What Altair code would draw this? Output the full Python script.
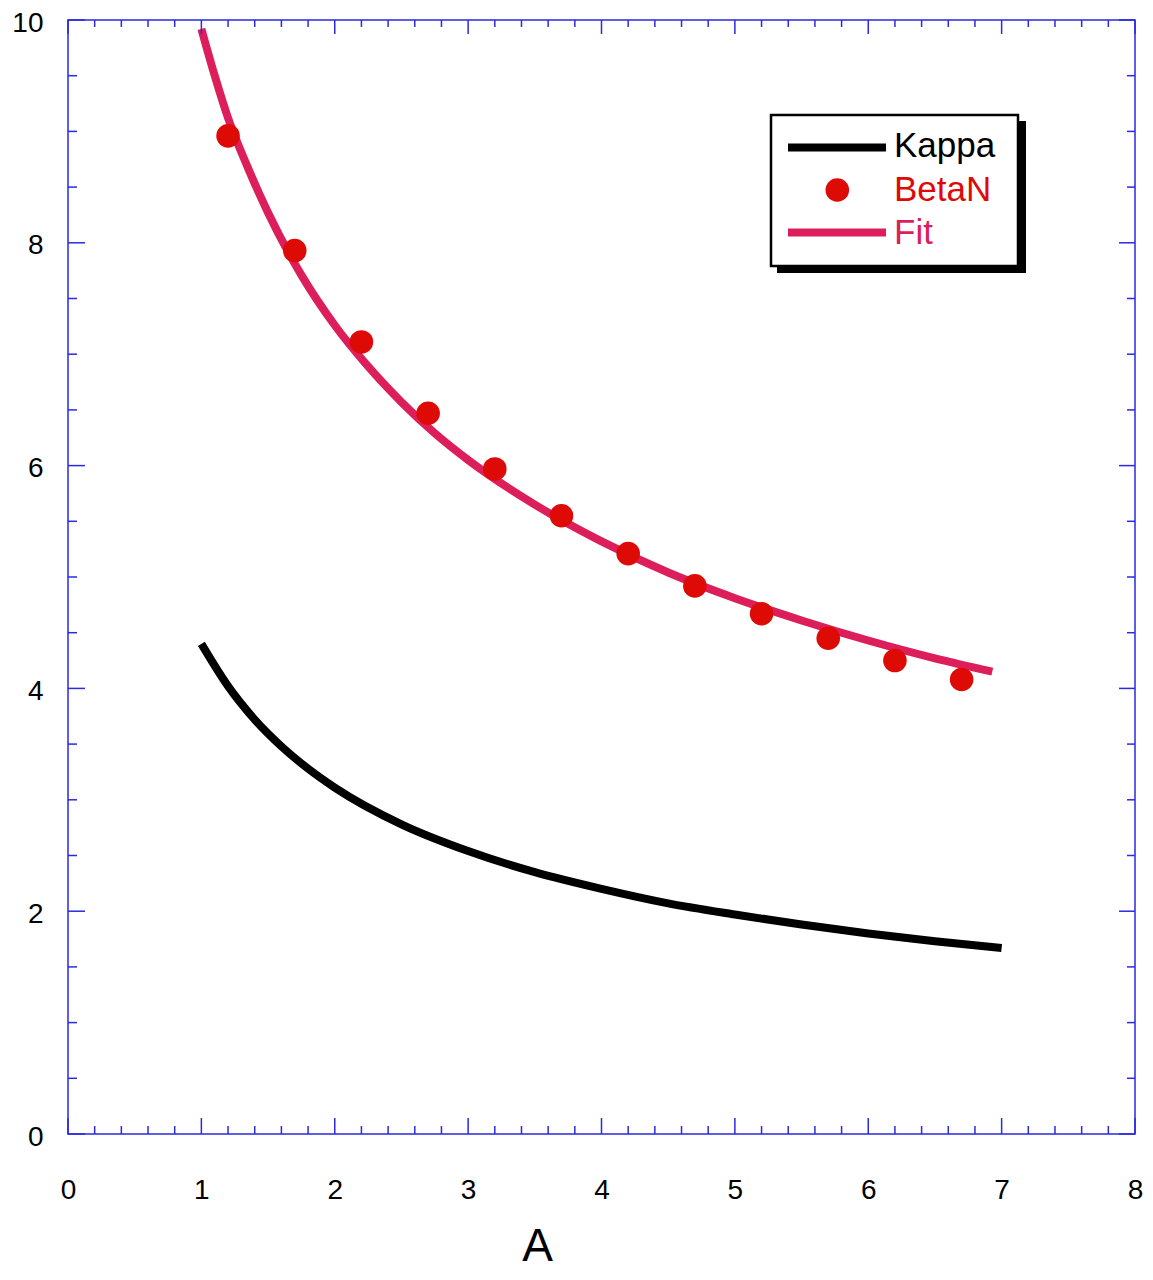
import altair as alt
import pandas as pd

# ---- data ----
A_kappa = [1.0, 1.2, 1.4, 1.6, 1.8, 2.0, 2.5, 3.0, 3.5, 4.0, 4.5, 5.0, 5.5, 6.0, 6.5, 7.0]
kappa = [4.40, 4.02, 3.72, 3.48, 3.28, 3.11, 2.78, 2.54, 2.35, 2.20, 2.07, 1.97, 1.88, 1.80, 1.73, 1.67]

A_beta = [1.2, 1.7, 2.2, 2.7, 3.2, 3.7, 4.2, 4.7, 5.2, 5.7, 6.2, 6.7]
betaN = [8.96, 7.93, 7.11, 6.47, 5.97, 5.55, 5.21, 4.92, 4.67, 4.45, 4.25, 4.08]

A_fit = [1.0, 1.1, 1.2, 1.35, 1.5, 1.75, 2.0, 2.25, 2.5, 2.75, 3.0, 3.5, 4.0, 4.5, 5.0, 5.5, 6.0, 6.5, 6.93]
fit = [9.92, 9.50, 9.12, 8.67, 8.27, 7.71, 7.26, 6.89, 6.57, 6.29, 6.05, 5.65, 5.32, 5.04, 4.81, 4.61, 4.43, 4.27, 4.15]

x_labels = [0, 1, 2, 3, 4, 5, 6, 7, 8]
y_labels = [0, 2, 4, 6, 8, 10]
x_minor = [round(0.2 * i, 1) for i in range(41) if i % 5 != 0]
y_minor = [0.5 * i for i in range(21) if i % 4 != 0]

legend_names = ["Kappa", "BetaN", "Fit"]

# ---- styling ----
KAPPA_C = "#000000"
BETA_C = "#dd0a05"
FIT_C = "#dc1f5b"
FRAME_C = "#2a2ae0"
FONT = "Liberation Sans"
W, H = 1067, 1114

xscale = alt.Scale(domain=[0, 8], nice=False, zero=False)
yscale = alt.Scale(domain=[0, 10], nice=False, zero=False)

xaxis = alt.Axis(values=x_labels, title="A", ticks=False, tickSize=0, domain=False, grid=False,
                 labelFontSize=28, labelFont=FONT, labelColor="black", labelPadding=64,
                 labelBaseline="alphabetic", labelFlush=False,
                 titleFontSize=46, titleFont=FONT, titleFontWeight="normal", titleColor="black",
                 titleX=469, titleY=126, titleBaseline="alphabetic", titleAlign="center")
yaxis = alt.Axis(values=y_labels, title="", ticks=False, tickSize=0, domain=False, grid=False,
                 labelFontSize=28, labelFont=FONT, labelColor="black", labelPadding=25,
                 labelBaseline="middle", labelFlush=False, labelOffset=3)

df_kappa = pd.DataFrame({"A": A_kappa, "v": kappa})
df_beta = pd.DataFrame({"A": A_beta, "v": betaN})
df_fit = pd.DataFrame({"A": A_fit, "v": fit})

X = alt.X("A:Q", scale=xscale, axis=xaxis)
Y = alt.Y("v:Q", scale=yscale, axis=yaxis)

kappa_line = alt.Chart(df_kappa).mark_line(color=KAPPA_C, strokeWidth=8, interpolate="monotone").encode(x=X, y=Y)
fit_line = alt.Chart(df_fit).mark_line(color=FIT_C, strokeWidth=8, interpolate="monotone").encode(x=X, y=Y)
beta_pts = alt.Chart(df_beta).mark_point(filled=True, color=BETA_C, size=556, opacity=1).encode(x=X, y=Y)

# ---- inward ticks on all four sides ----
dx_major = pd.DataFrame({"A": x_labels})
dx_minor = pd.DataFrame({"A": x_minor})
dy_major = pd.DataFrame({"v": y_labels})
dy_minor = pd.DataFrame({"v": y_minor})


def xticks(df, y0, y1):
    return alt.Chart(df).mark_rule(color=FRAME_C, strokeWidth=1.5).encode(
        x=X, y=alt.value(y0), y2=alt.value(y1))


def yticks(df, x0, x1):
    return alt.Chart(df).mark_rule(color=FRAME_C, strokeWidth=1.5).encode(
        y=Y, x=alt.value(x0), x2=alt.value(x1))


ticks = [
    xticks(dx_major, H, H - 16), xticks(dx_minor, H, H - 8),
    xticks(dx_major, 0, 14), xticks(dx_minor, 0, 7),
    yticks(dy_major, 0, 17), yticks(dy_minor, 0, 9),
    yticks(dy_major, W, W - 16), yticks(dy_minor, W, W - 8),
]

# ---- legend box with drop shadow ----
one = pd.DataFrame({"k": [0]})
shadow = alt.Chart(one).mark_rect(color="black").encode(
    x=alt.value(709), x2=alt.value(958), y=alt.value(101), y2=alt.value(253))
box = alt.Chart(one).mark_rect(fill="white", stroke="black", strokeWidth=2.5).encode(
    x=alt.value(703), x2=alt.value(950), y=alt.value(95), y2=alt.value(246))
leg_kappa = alt.Chart(one).mark_rule(color=KAPPA_C, strokeWidth=8).encode(
    x=alt.value(720), x2=alt.value(818), y=alt.value(127.5))
leg_fit = alt.Chart(one).mark_rule(color=FIT_C, strokeWidth=8).encode(
    x=alt.value(720), x2=alt.value(818), y=alt.value(212.5))
leg_dot = alt.Chart(one).mark_point(filled=True, color=BETA_C, size=556, opacity=1).encode(
    x=alt.value(769.3), y=alt.value(170))
leg_texts = [
    alt.Chart(one).mark_text(text=legend_names[0], color=KAPPA_C, font=FONT, fontSize=35,
                             align="left", baseline="alphabetic").encode(x=alt.value(826), y=alt.value(137)),
    alt.Chart(one).mark_text(text=legend_names[1], color=BETA_C, font=FONT, fontSize=35,
                             align="left", baseline="alphabetic").encode(x=alt.value(826), y=alt.value(181)),
    alt.Chart(one).mark_text(text=legend_names[2], color=FIT_C, font=FONT, fontSize=35,
                             align="left", baseline="alphabetic").encode(x=alt.value(826), y=alt.value(223.5)),
]

chart = alt.layer(
    kappa_line, fit_line, beta_pts, *ticks, shadow, box, leg_kappa, leg_fit, leg_dot, *leg_texts
).properties(
    width=W, height=H,
    background="white",
    padding={"left": 60, "top": 12, "right": 10, "bottom": 138},
    autosize=alt.AutoSizeParams(type="none"),
).configure_view(stroke=FRAME_C, strokeWidth=1.5)

chart.save("out.html", embed_options={"renderer": "svg", "actions": False})
